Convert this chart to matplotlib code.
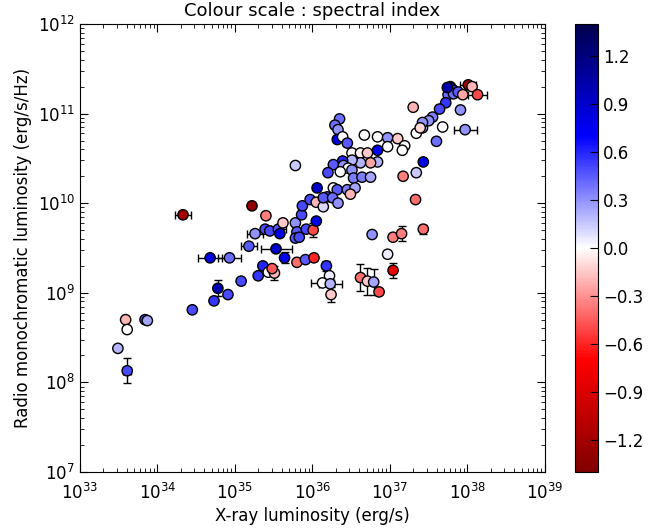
import numpy as np
import matplotlib
matplotlib.use("Agg")
import matplotlib.pyplot as plt
from matplotlib.ticker import NullFormatter, FixedLocator, LogFormatterSciNotation

# log10 X-ray luminosity (erg/s), log10 radio luminosity (erg/s/Hz), spectral index
log_lx = [33.59, 33.61, 33.84, 33.87, 33.49, 33.61, 34.45, 34.73, 34.91, 34.78,
          35.08, 35.30, 35.36, 35.43, 35.51, 35.48, 34.68, 34.93, 35.18, 35.53,
          35.64, 35.80, 35.91, 36.02, 34.33, 35.22, 35.40, 35.26, 35.39, 35.45,
          35.56, 35.58, 35.62, 35.78, 35.80, 35.78, 35.83, 35.92, 36.01, 36.05,
          35.86, 35.87, 35.97, 36.06, 36.05, 36.14, 36.19, 36.18, 36.22, 36.13,
          36.23, 36.24, 36.77, 37.04, 37.15, 37.43, 36.97, 37.04, 36.62, 36.71,
          36.79, 36.86, 37.33, 35.78, 36.35, 36.29, 36.33, 36.32, 36.39, 36.45,
          36.67, 36.84, 36.97, 36.97, 37.10, 37.19, 37.16, 37.30, 37.34, 37.42,
          37.43, 37.34, 37.17, 36.51, 36.62, 36.71, 36.84, 36.84, 36.75, 36.62,
          36.51, 36.39, 36.27, 36.40, 36.46, 36.51, 36.36, 36.20, 36.53, 36.64,
          36.75, 36.27, 36.32, 36.45, 36.55, 36.49, 36.14, 36.26, 36.33, 37.78,
          37.82, 37.75, 37.82, 37.88, 37.94, 38.01, 38.06, 38.13, 37.72, 37.64,
          37.55, 37.50, 37.42, 37.39, 37.68, 37.91, 37.97, 37.60, 37.74]
log_lr = [8.70, 8.59, 8.70, 8.69, 8.38, 8.13, 8.81, 8.91, 8.98, 9.05,
          9.13, 9.19, 9.30, 9.23, 9.22, 9.27, 9.39, 9.39, 9.52, 9.49,
          9.39, 9.34, 9.37, 9.39, 9.87, 9.97, 9.86, 9.66, 9.71, 9.69,
          9.71, 9.66, 9.78, 9.78, 9.68, 9.61, 9.62, 9.71, 9.70, 9.80,
          9.87, 9.97, 10.04, 10.17, 10.01, 9.96, 10.07, 9.30, 9.19, 9.11,
          9.10, 8.98, 9.65, 9.62, 9.66, 9.71, 9.43, 9.25, 9.17, 9.13,
          9.12, 9.01, 10.04, 10.42, 10.94, 10.87, 10.82, 10.71, 10.74, 10.67,
          10.76, 10.74, 10.73, 10.63, 10.72, 10.64, 10.59, 11.07, 10.78, 10.84,
          10.46, 10.34, 10.30, 10.56, 10.56, 10.56, 10.59, 10.46, 10.45, 10.45,
          10.48, 10.47, 10.43, 10.42, 10.39, 10.37, 10.35, 10.34, 10.28, 10.29,
          10.29, 10.17, 10.15, 10.15, 10.17, 10.10, 10.06, 10.06, 10.00, 11.30,
          11.26, 11.21, 11.22, 11.24, 11.21, 11.32, 11.30, 11.21, 11.12, 11.05,
          10.96, 10.92, 10.90, 10.84, 10.85, 11.04, 10.82, 10.69, 11.29]
spec_index = [-0.2, 0.0, 0.5, 0.25, 0.2, 0.5, 0.5, 0.55, 0.5, 1.0,
              0.5, 0.55, 0.6, 0.0, -0.2, -0.45, 0.8, 0.4, 0.45, 0.9,
              0.75, -0.4, 0.45, -0.6, -1.2, -1.3, -0.35, 0.3, 0.5, 0.5,
              0.45, 0.8, -0.15, 0.3, 0.45, 0.45, 0.5, 0.5, -0.5, 0.8,
              0.5, 0.5, 0.5, 0.9, -0.2, 0.1, 0.5, 0.55, 0.05, 0.0,
              0.2, -0.15, 0.3, -0.35, -0.35, -0.4, 0.05, -0.8, -0.4, -0.15,
              0.25, -0.5, -0.4, 0.15, 0.4, 0.4, 0.3, 0.8, 0.0, 0.45,
              0.0, 0.0, 0.3, 0.0, -0.15, 0.0, 0.0, -0.2, 0.0, 0.25,
              0.8, 0.15, -0.35, 0.0, -0.05, -0.15, 0.75, 0.2, -0.25, 0.2,
              0.2, 0.6, 0.45, 0.3, 0.0, 0.3, 0.0, 0.5, 0.35, 0.35,
              0.25, 0.0, 0.45, 0.35, 0.25, -0.2, 0.45, 0.4, 0.3, 1.3,
              0.6, 0.4, 0.4, 0.45, -0.25, -1.2, -0.2, -0.5, 0.55, 0.5,
              0.35, 0.3, 0.3, -0.1, 0.0, 0.3, 0.3, 0.4, 1.0]
# uncertainties in dex (0 = no error bar)
err_x = [0, 0, 0, 0, 0, 0.05, 0, 0, 0, 0,
         0, 0, 0, 0, 0, 0, 0.15, 0.15, 0.1, 0.2,
         0, 0, 0, 0, 0.1, 0, 0, 0.1, 0, 0,
         0.1, 0, 0, 0, 0, 0, 0, 0, 0, 0,
         0, 0, 0, 0, 0, 0, 0, 0, 0, 0.15,
         0.15, 0, 0, 0, 0, 0, 0, 0, 0, 0,
         0, 0, 0, 0, 0, 0, 0, 0, 0, 0,
         0, 0, 0, 0, 0, 0, 0, 0, 0, 0,
         0, 0, 0, 0, 0, 0, 0, 0, 0, 0,
         0, 0, 0, 0, 0, 0, 0, 0, 0, 0,
         0, 0, 0, 0, 0, 0, 0, 0, 0, 0,
         0, 0, 0, 0.1, 0, 0.1, 0, 0.12, 0, 0,
         0, 0, 0, 0, 0, 0, 0.15, 0, 0]
err_y = [0, 0, 0, 0, 0, 0.14, 0, 0, 0, 0.09,
         0, 0, 0, 0, 0.08, 0, 0, 0, 0, 0,
         0.06, 0, 0, 0, 0, 0, 0, 0, 0, 0,
         0, 0, 0, 0, 0, 0, 0, 0, 0.08, 0,
         0, 0, 0, 0, 0, 0, 0, 0.06, 0, 0,
         0, 0.08, 0, 0, 0.08, 0.05, 0, 0.08, 0.15, 0.15,
         0.15, 0, 0, 0, 0, 0, 0, 0, 0, 0,
         0, 0, 0, 0, 0, 0, 0, 0, 0, 0,
         0, 0, 0, 0, 0, 0, 0, 0, 0, 0,
         0, 0, 0, 0, 0, 0, 0, 0, 0, 0,
         0, 0, 0, 0, 0, 0, 0, 0, 0, 0,
         0, 0, 0, 0, 0, 0, 0, 0, 0, 0,
         0, 0, 0, 0, 0, 0, 0, 0, 0]

plt.rcParams['font.family'] = ['DejaVu Sans']
plt.rcParams['mathtext.fontset'] = 'dejavusans'
plt.rcParams['font.size'] = 12

lx = np.array(log_lx); lr = np.array(log_lr)
ex = np.array(err_x); ey = np.array(err_y)
X = 10 ** lx; Y = 10 ** lr

fig = plt.figure(figsize=(6.55, 5.31), dpi=100, facecolor='white')
ax = fig.add_axes([0.122, 0.111, 0.710, 0.844])
cax = fig.add_axes([0.878, 0.111, 0.035, 0.844])

m = (ex > 0) | (ey > 0)
xlo = X[m] - 10 ** (lx[m] - ex[m]); xhi = 10 ** (lx[m] + ex[m]) - X[m]
ylo = Y[m] - 10 ** (lr[m] - ey[m]); yhi = 10 ** (lr[m] + ey[m]) - Y[m]
ax.errorbar(X[m], Y[m], xerr=[xlo, xhi], yerr=[ylo, yhi], fmt='none',
            ecolor='black', elinewidth=1, capsize=3, capthick=1, zorder=1)
sc = ax.scatter(X, Y, c=spec_index, cmap='seismic_r', vmin=-1.4, vmax=1.4,
                s=55, edgecolors='black', linewidths=1, zorder=2)

ax.set_xscale('log'); ax.set_yscale('log')
ax.set_xlim(1e33, 1e39); ax.set_ylim(1e7, 1e12)
ax.xaxis.set_major_locator(FixedLocator([10.0 ** k for k in range(33, 40)]))
ax.yaxis.set_major_locator(FixedLocator([10.0 ** k for k in range(7, 13)]))
ax.xaxis.set_major_formatter(LogFormatterSciNotation())
ax.yaxis.set_major_formatter(LogFormatterSciNotation())
ax.xaxis.set_minor_formatter(NullFormatter())
ax.yaxis.set_minor_formatter(NullFormatter())
ax.tick_params(which='both', direction='in', top=True, right=True)
ax.tick_params(which='major', length=6)
ax.tick_params(which='minor', length=3)
ax.tick_params(axis='x', which='major', pad=8)
ax.set_xlabel('X-ray luminosity (erg/s)', labelpad=3)
ax.set_ylabel('Radio monochromatic luminosity (erg/s/Hz)')
ax.set_title('Colour scale : spectral index', fontsize=13)

cb = fig.colorbar(sc, cax=cax, ticks=[-1.2, -0.9, -0.6, -0.3, 0.0, 0.3, 0.6, 0.9, 1.2])
cb.ax.tick_params(direction='in', length=6)
cb.ax.set_yticklabels(['\u22121.2', '\u22120.9', '\u22120.6', '\u22120.3', '0.0', '0.3', '0.6', '0.9', '1.2'])

fig.savefig('out.png', dpi=100, facecolor='white')
